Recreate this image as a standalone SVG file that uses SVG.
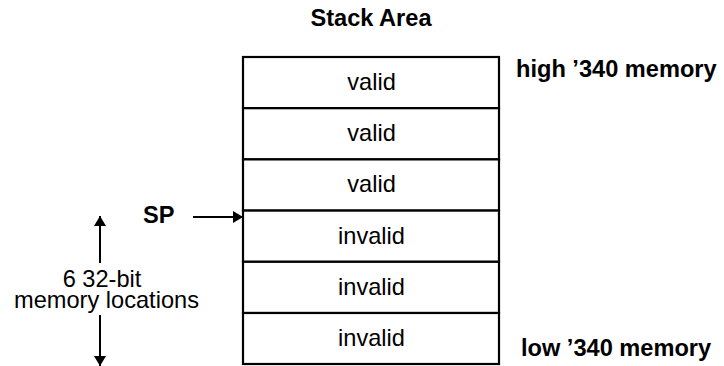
<svg xmlns="http://www.w3.org/2000/svg" width="724" height="366" viewBox="0 0 724 366">
<style>
text{font-family:"Liberation Sans",Arial,sans-serif;font-size:23.6px;fill:#000}
.b{font-weight:bold}
.c{text-anchor:middle}
.cell{fill:#fff;stroke:#000;stroke-width:2.2}
.ln{stroke:#000;stroke-width:2;fill:none}
</style>
<defs>
<marker id="ah" viewBox="0 0 10 12" refX="10" refY="6" markerWidth="10" markerHeight="12" markerUnits="userSpaceOnUse" orient="auto">
<path d="M0,0 L10,6 L0,12 Z" fill="#000"/>
</marker>
</defs>
<rect width="724" height="366" fill="#fff"/>
<text id="title" class="b c" x="371" y="26">Stack Area</text>
<g id="cell1"><rect class="cell" x="243" y="57" width="256" height="51.2"/><text class="c" x="371.5" y="90">valid</text></g>
<g id="cell2"><rect class="cell" x="243" y="108.2" width="256" height="51.2"/><text class="c" x="371.5" y="141.2">valid</text></g>
<g id="cell3"><rect class="cell" x="243" y="159.4" width="256" height="51.2"/><text class="c" x="371.5" y="192.4">valid</text></g>
<g id="cell4"><rect class="cell" x="243" y="210.6" width="256" height="51.2"/><text class="c" x="371.5" y="243.6">invalid</text></g>
<g id="cell5"><rect class="cell" x="243" y="261.8" width="256" height="51.2"/><text class="c" x="371.5" y="294.8">invalid</text></g>
<g id="cell6"><rect class="cell" x="243" y="313" width="256" height="51"/><text class="c" x="371.5" y="346">invalid</text></g>
<g id="high"><text class="b" x="516" y="77">high ’340 memory</text></g>
<g id="low"><text class="b" x="521" y="356">low ’340 memory</text></g>
<g id="sp"><text class="b" x="143" y="223">SP</text></g>
<g id="size"><text class="c" x="102" y="287">6 32-bit</text><text class="c" x="106.5" y="308">memory locations</text></g>
<g id="connectors">
<line class="ln" x1="193" y1="217" x2="243" y2="217" marker-end="url(#ah)"/>
<line class="ln" x1="100" y1="263" x2="100" y2="216" marker-end="url(#ah)"/>
<line class="ln" x1="100" y1="315" x2="100" y2="366" marker-end="url(#ah)"/>
</g>
</svg>
